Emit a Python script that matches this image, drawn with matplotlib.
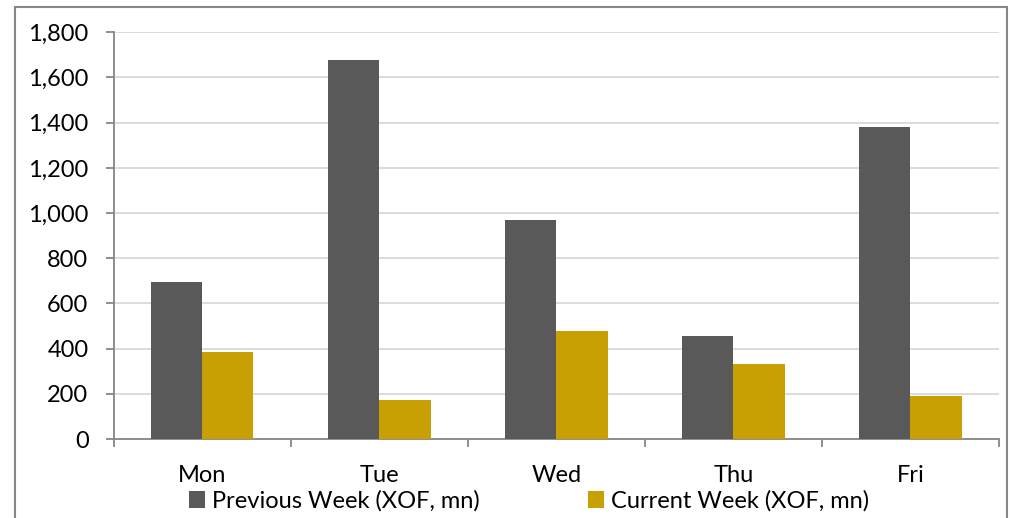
import matplotlib
matplotlib.use("Agg")
import matplotlib.pyplot as plt
from matplotlib.patches import Rectangle
from matplotlib.ticker import FuncFormatter, MultipleLocator, FixedLocator
import numpy as np

days = ["Mon", "Tue", "Wed", "Thu", "Fri"]
previous_week = [693, 1676, 970, 457, 1380]
current_week = [385, 174, 478, 333, 190]
series_names = ["Previous Week (XOF, mn)", "Current Week (XOF, mn)"]

plt.rcParams["font.family"] = ["Lato", "DejaVu Sans"]

W, H = 1011, 518
fig = plt.figure(figsize=(W / 100, H / 100), dpi=100)
ax = fig.add_axes([113.5 / W, 1 - 439 / H, (999 - 113.5) / W, (439 - 32.3) / H])

x = np.arange(len(days))
bw = 0.29
grey = "#595959"
gold = "#C9A004"
b1 = ax.bar(x - bw / 2, previous_week, bw, color=grey, label=series_names[0], zorder=3)
b2 = ax.bar(x + bw / 2, current_week, bw, color=gold, label=series_names[1], zorder=3)

ax.set_xlim(-0.5, len(days) - 0.5)
ax.set_ylim(0, 1800)
ax.yaxis.set_major_locator(MultipleLocator(200))
ax.yaxis.set_major_formatter(FuncFormatter(lambda v, p: f"{int(v):,}"))
ax.grid(axis="y", color="#D9D9D9", lw=1.3, zorder=0)

ax.set_xticks(x)
ax.set_xticklabels(days)
ax.xaxis.set_minor_locator(FixedLocator(np.arange(-0.5, len(days), 1.0)))
ax.tick_params(axis="x", which="major", length=0, pad=18.5, labelsize=17, labelcolor="black")
ax.tick_params(axis="x", which="minor", length=6, width=1.3, color="#868686", direction="out")
ax.tick_params(axis="y", length=6, width=1.3, color="#868686", pad=12, labelsize=17)

for s in ["top", "right"]:
    ax.spines[s].set_visible(False)
for s in ["left", "bottom"]:
    ax.spines[s].set_color("#868686")
    ax.spines[s].set_linewidth(1.3)

fig.legend(handles=[b1, b2], loc="center", bbox_to_anchor=(529 / W, 1 - 501 / H),
           ncol=2, frameon=False, fontsize=17, handlelength=0.68, handleheight=0.68,
           handletextpad=0.3, columnspacing=4.6, borderaxespad=0, borderpad=0)

fig.add_artist(Rectangle((15 / W, -0.1), (1006.7 - 15) / W, 1.1 - 7.3 / H,
                         transform=fig.transFigure, fill=False,
                         edgecolor="#868686", lw=1.5))

fig.savefig("out.png", dpi=100)
